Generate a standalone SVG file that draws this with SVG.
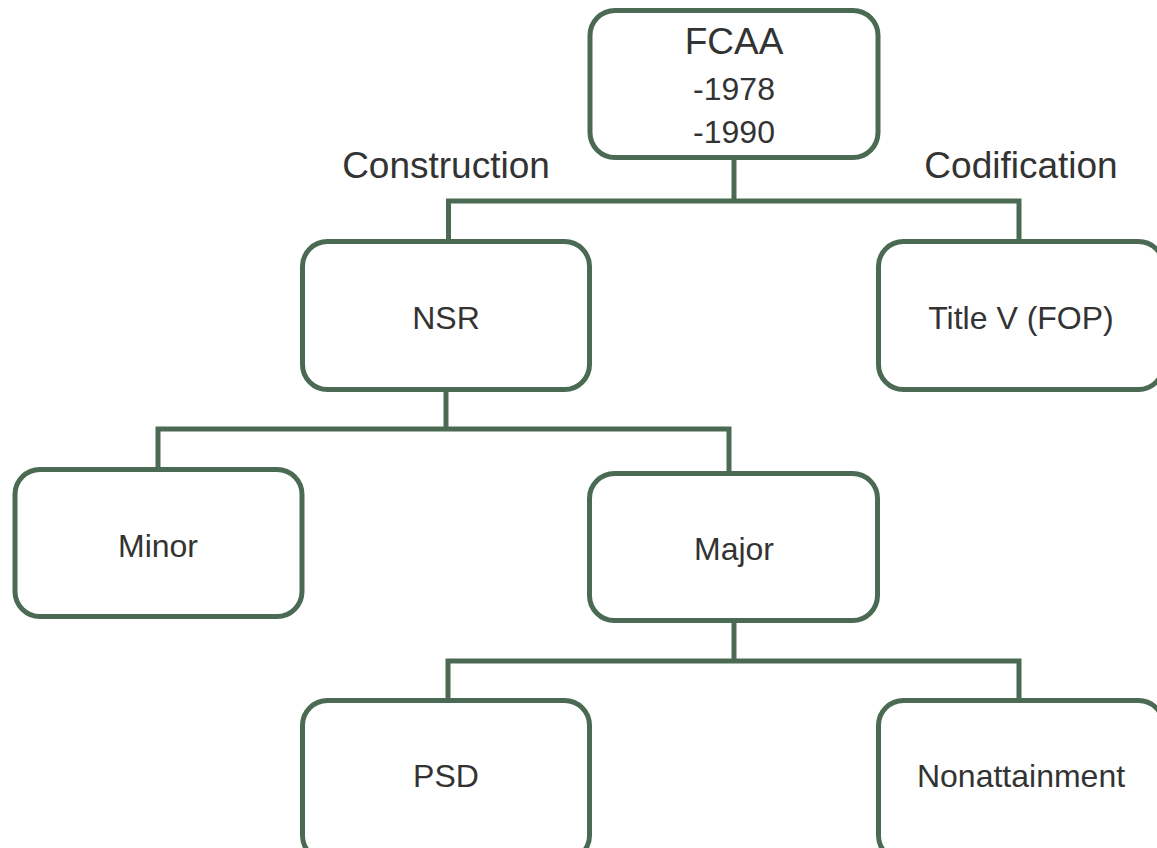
<svg xmlns="http://www.w3.org/2000/svg" width="1157" height="848" viewBox="0 0 1157 848">
<style>
  .box { fill: #ffffff; stroke: #4a6a53; stroke-width: 5; }
  .conn { fill: none; stroke: #4a6a53; stroke-width: 5; stroke-linejoin: miter; }
  .t { font-family: "Liberation Sans", Arial, sans-serif; fill: #333333; text-anchor: middle; }
  .big { font-size: 37px; }
  .sm { font-size: 32px; }
</style>
<rect width="1157" height="848" fill="#ffffff"/>
<g id="connectors">
  <path class="conn" d="M734,158 V201"/>
  <path class="conn" d="M448.5,241 V201 H1019 V241"/>
  <path class="conn" d="M446,390 V429"/>
  <path class="conn" d="M158,469 V429 H729 V473"/>
  <path class="conn" d="M734,621 V661"/>
  <path class="conn" d="M448,700 V661 H1019 V700"/>
</g>
<g id="label-construction"><text class="t big" x="446" y="178">Construction</text></g>
<g id="label-codification"><text class="t big" x="1021" y="178">Codification</text></g>
<g id="node-fcaa">
  <rect class="box" x="590" y="10.5" width="288" height="147" rx="25" ry="25"/>
  <text class="t big" x="734" y="54">FCAA</text>
  <text class="t sm" x="734" y="100">-1978</text>
  <text class="t sm" x="734" y="143">-1990</text>
</g>
<g id="node-nsr">
  <rect class="box" x="302.5" y="241.5" width="287" height="148" rx="25" ry="25"/>
  <text class="t sm" x="446" y="329">NSR</text>
</g>
<g id="node-titlev">
  <rect class="box" x="878.5" y="241.5" width="285" height="148" rx="25" ry="25"/>
  <text class="t sm" x="1021" y="329">Title V (FOP)</text>
</g>
<g id="node-minor">
  <rect class="box" x="15" y="469.5" width="287" height="147" rx="25" ry="25"/>
  <text class="t sm" x="158" y="557">Minor</text>
</g>
<g id="node-major">
  <rect class="box" x="589.5" y="473.5" width="288" height="147" rx="25" ry="25"/>
  <text class="t sm" x="734" y="560">Major</text>
</g>
<g id="node-psd">
  <rect class="box" x="302.5" y="700.5" width="287" height="160" rx="25" ry="25"/>
  <text class="t sm" x="446" y="787">PSD</text>
</g>
<g id="node-nonattainment">
  <rect class="box" x="878.5" y="700.5" width="285" height="160" rx="25" ry="25"/>
  <text class="t sm" x="1021" y="787">Nonattainment</text>
</g>
</svg>
